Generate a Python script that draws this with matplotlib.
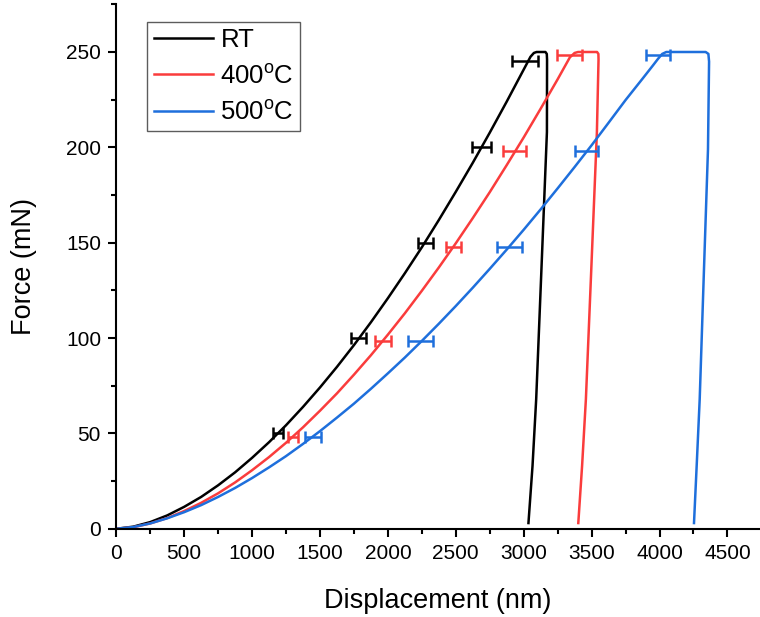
import matplotlib.pyplot as plt
import numpy as np
from matplotlib.ticker import MultipleLocator

plt.rcParams['font.family'] = ['Liberation Sans', 'DejaVu Sans']
plt.rcParams['mathtext.fontset'] = 'custom'
plt.rcParams['mathtext.rm'] = 'Liberation Sans'

# Load-displacement curves (nm, mN)
rt_h = [0, 125, 250, 375, 500, 625, 750, 875, 1000, 1125, 1250, 1375, 1500, 1625, 1750,
        1875, 2000, 2125, 2250, 2375, 2500, 2625, 2750, 2875, 3000,
        3050, 3075, 3095, 3160, 3170, 3172, 3171, 3130, 3092, 3065, 3035]
rt_f = [0, 1.1, 3.5, 7.0, 11.5, 16.7, 22.8, 29.6, 37.2, 45.4, 54.3, 63.9, 74.1, 84.9, 96.3,
        108.3, 120.9, 134.0, 147.6, 161.9, 176.7, 191.9, 207.7, 224.0, 240.8,
        247.5, 249.5, 250, 250, 249, 246, 208, 135, 68, 33, 3]

t400_h = [0, 125, 250, 375, 500, 625, 750, 875, 1000, 1125, 1250, 1375, 1500, 1625, 1750,
          1875, 2000, 2125, 2250, 2375, 2500, 2625, 2750, 2875, 3000, 3125, 3250,
          3340, 3375, 3400, 3540, 3550, 3551, 3539, 3497, 3458, 3430, 3402]
t400_f = [0, 0.8, 2.8, 5.6, 9.3, 13.6, 18.6, 24.3, 30.7, 37.6, 45.1, 53.2, 61.9, 71.0, 80.8,
          91.0, 101.8, 113.0, 124.8, 137.0, 149.7, 162.9, 176.5, 190.7, 205.2, 220.3, 235.7,
          247.2, 249.5, 250, 250, 249, 246, 208, 135, 68, 33, 3]

t500_h = [0, 125, 250, 375, 500, 625, 750, 875, 1000, 1125, 1250, 1375, 1500, 1625, 1750,
          1875, 2000, 2125, 2250, 2375, 2500, 2625, 2750, 2875, 3000, 3125, 3250, 3375,
          3500, 3625, 3750, 3875, 3950, 3990, 4020, 4050, 4340, 4360, 4365, 4357, 4327,
          4296, 4275, 4254]
t500_f = [0, 0.9, 2.8, 5.5, 8.7, 12.4, 16.7, 21.4, 26.6, 32.2, 38.1, 44.5, 51.2, 58.3, 65.6,
          73.4, 81.5, 89.8, 98.5, 107.5, 116.8, 126.4, 136.3, 146.4, 156.8, 167.5, 178.5, 189.7,
          201.1, 212.9, 224.8, 236.0, 242.8, 246.5, 249, 250, 250, 249, 245, 199, 135,
          68, 35, 3]

# Error bar points (centre, half width, force)
rt_ex = [1190, 1782, 2275, 2690, 3012]
rt_ee = [37, 55, 55, 70, 95]
rt_ey = [50.4, 99.8, 150, 200, 245.4]

t400_ex = [1300, 1962, 2485, 2935, 3340]
t400_ee = [37, 58, 55, 85, 92]
t400_ey = [48.3, 98.2, 148, 198, 248.4]

t500_ex = [1447, 2240, 2895, 3465, 3990]
t500_ee = [58, 95, 95, 85, 88]
t500_ey = [48.3, 98.2, 148, 198, 248.4]

black = 'black'
red = '#fa3c3c'
blue = '#1e6fdc'

fig = plt.figure(figsize=(7.6, 6.17), dpi=100)
ax = fig.add_axes([0.153, 0.143, 0.847, 0.85])

ax.plot(rt_h, rt_f, color=black, lw=1.8, label='RT')
ax.plot(t400_h, t400_f, color=red, lw=1.8, label='400$^{\\mathrm{o}}$C')
ax.plot(t500_h, t500_f, color=blue, lw=1.8, label='500$^{\\mathrm{o}}$C')

for ex, ee, ey, c in [(rt_ex, rt_ee, rt_ey, black), (t400_ex, t400_ee, t400_ey, red),
                      (t500_ex, t500_ee, t500_ey, blue)]:
    ax.errorbar(ex, ey, xerr=ee, fmt='none', ecolor=c, elinewidth=1.8,
                capsize=4, capthick=1.8)

ax.set_xlim(0, 4740)
ax.set_ylim(0, 275)
ax.xaxis.set_major_locator(MultipleLocator(500))
ax.xaxis.set_minor_locator(MultipleLocator(250))
ax.yaxis.set_major_locator(MultipleLocator(50))
ax.yaxis.set_minor_locator(MultipleLocator(25))
ax.spines['top'].set_visible(False)
ax.spines['right'].set_visible(False)
ax.spines['left'].set_linewidth(1.5)
ax.spines['bottom'].set_linewidth(1.5)
ax.tick_params(which='major', direction='out', length=6, width=1.5, labelsize=15, pad=5)
ax.tick_params(which='minor', direction='out', length=3.5, width=1.5)

ax.set_xlabel('Displacement (nm)', fontsize=19.5, labelpad=18)
ax.set_ylabel('Force (mN)', fontsize=19.5, labelpad=21)

leg = ax.legend(loc='upper left', bbox_to_anchor=(0.048, 0.967), fontsize=18.5,
                frameon=True, fancybox=False, handlelength=2.3, handletextpad=0.3,
                labelspacing=0.45, borderpad=0.25, borderaxespad=0)
leg.get_frame().set_edgecolor('#333333')
leg.get_frame().set_linewidth(1.0)

fig.savefig('out.png', dpi=100)
